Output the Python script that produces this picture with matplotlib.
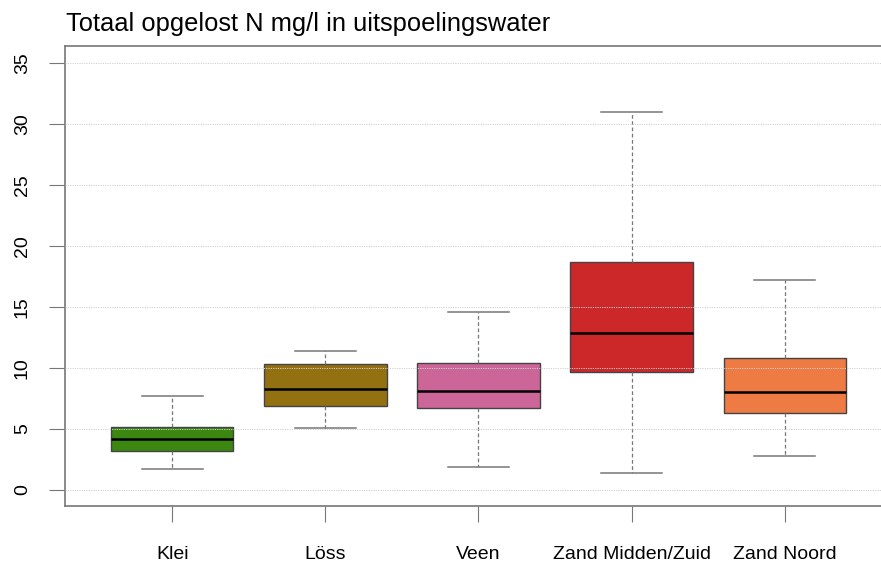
import matplotlib
matplotlib.use("Agg")
import matplotlib.pyplot as plt

plt.rcParams['font.family'] = ['Liberation Sans', 'DejaVu Sans']

categories = ["Klei", "Löss", "Veen", "Zand Midden/Zuid", "Zand Noord"]
whislo = [1.7, 5.1, 1.9, 1.4, 2.8]
q1 = [3.2, 6.9, 6.7, 9.7, 6.3]
med = [4.2, 8.3, 8.1, 12.9, 8.0]
q3 = [5.2, 10.3, 10.4, 18.7, 10.8]
whishi = [7.7, 11.4, 14.6, 31.0, 17.2]
colors = ["#3b8712", "#937010", "#cc6698", "#cc282a", "#ee7a44"]
yticks = [0, 5, 10, 15, 20, 25, 30, 35]
title = "Totaal opgelost N mg/l in uitspoelingswater"

W, H = 881, 563
fig = plt.figure(figsize=(W / 100, H / 100), dpi=100)
ax = fig.add_axes([65 / W, (H - 506) / H, (892 - 65) / W, (506 - 46) / H])

stats = []
for i, c in enumerate(categories):
    stats.append(dict(label=c, whislo=whislo[i], q1=q1[i], med=med[i],
                      q3=q3[i], whishi=whishi[i], fliers=[]))

bp = ax.bxp(stats, positions=range(1, len(categories) + 1), widths=0.8,
            patch_artist=True, showfliers=False,
            boxprops=dict(edgecolor="#444444", linewidth=1.0),
            medianprops=dict(color="black", linewidth=1.8),
            whiskerprops=dict(color="#777777", linewidth=0.9, linestyle=(0, (3, 2))),
            capprops=dict(color="#777777", linewidth=1.1),
            capwidths=0.4)
for patch, col in zip(bp["boxes"], colors):
    patch.set_facecolor(col)

ax.set_xlim(0.3, 5.7)
ax.set_ylim(-1.31, 36.4)
ax.set_yticks(yticks)
ax.set_yticklabels([str(v) for v in yticks], rotation=90, va="center", fontsize=14)
ax.set_xticks(range(1, len(categories) + 1))
ax.set_xticklabels(categories, fontsize=14)
ax.tick_params(axis="y", length=11.5, color="#777777", pad=13)
ax.tick_params(axis="x", length=11.5, color="#777777", pad=17.5)

for v in yticks:
    ax.axhline(v, color="#d0d0d0", linewidth=0.7, linestyle=(0, (1.2, 1.2)), zorder=5)

for s in ["left", "bottom", "top"]:
    ax.spines[s].set_color("#777777")
    ax.spines[s].set_linewidth(1.2)
ax.spines["right"].set_visible(False)

fig.text(66 / W, 1 - 24 / H, title, fontsize=18.4, ha="left", va="center")

fig.savefig("out.png", dpi=100)
